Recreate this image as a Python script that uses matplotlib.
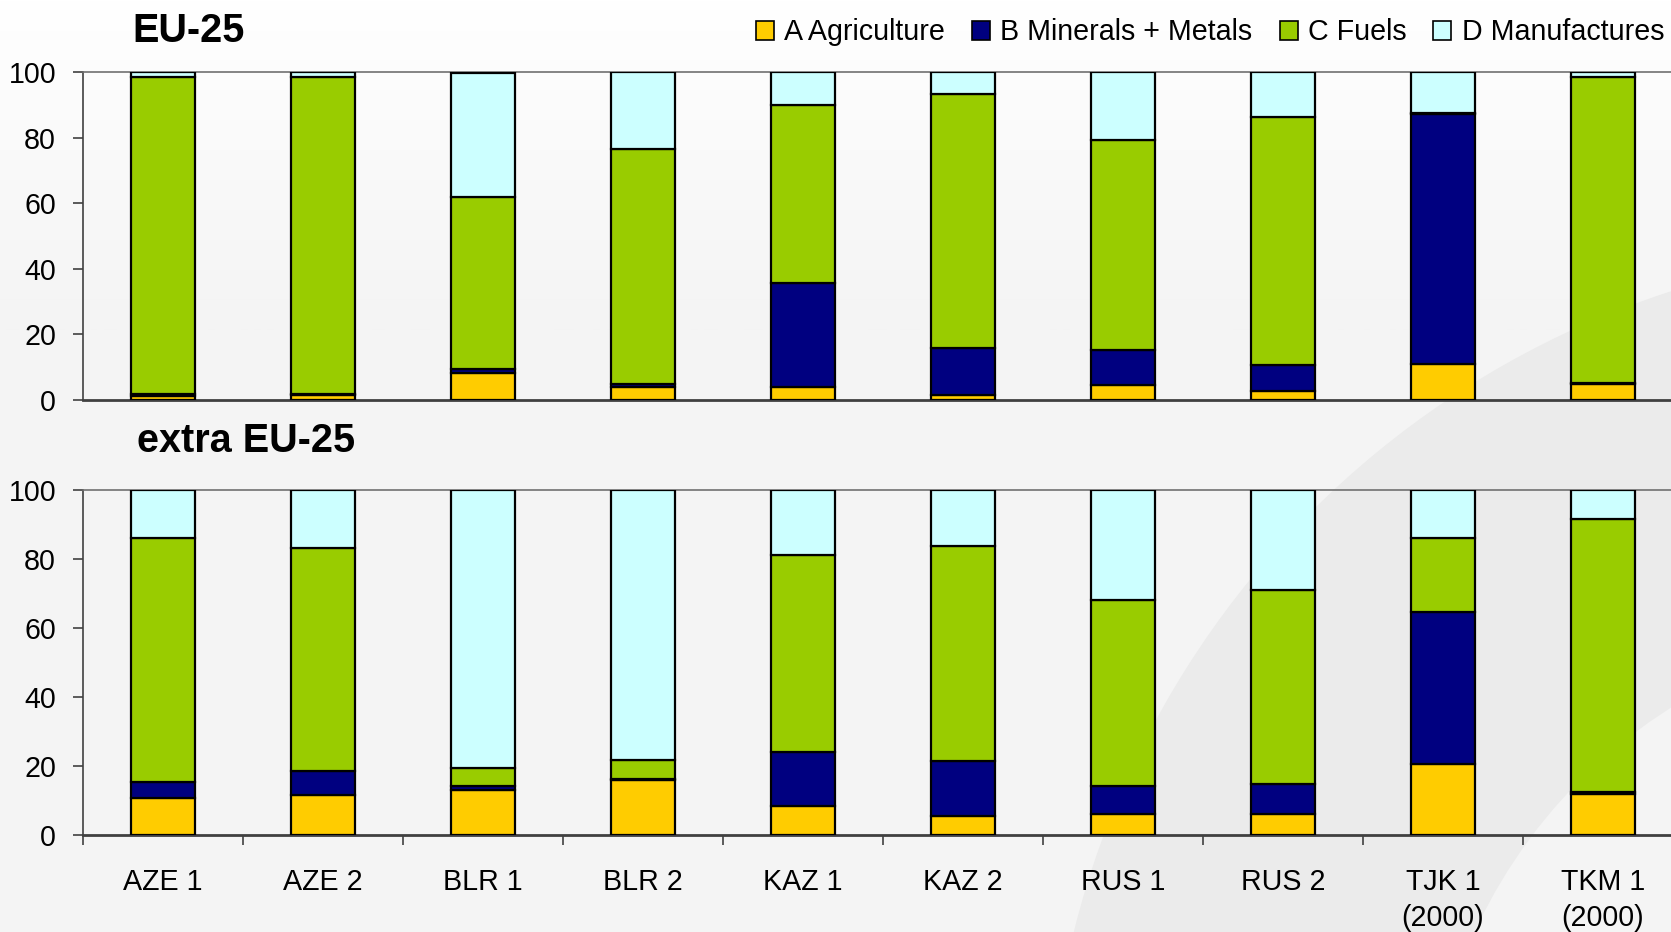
import matplotlib
matplotlib.use('Agg')
import matplotlib.pyplot as plt
import numpy as np
from matplotlib.patches import Patch, Wedge
from matplotlib.colors import LinearSegmentedColormap

plt.rcParams['font.family'] = ['Liberation Sans', 'DejaVu Sans']

categories = ['AZE 1', 'AZE 2', 'BLR 1', 'BLR 2', 'KAZ 1', 'KAZ 2',
              'RUS 1', 'RUS 2', 'TJK 1\n(2000)', 'TKM 1\n(2000)']
series = ['A Agriculture', 'B Minerals + Metals', 'C Fuels', 'D Manufactures']
colors = ['#FFCC00', '#000080', '#99CC00', '#CCFFFF']

# EU-25
agr_eu = [1.0, 1.5, 8.0, 3.9, 3.9, 1.4, 4.5, 2.7, 10.9, 4.7]
min_eu = [0.7, 0.2, 1.3, 0.8, 31.8, 14.5, 10.7, 7.8, 76.3, 0.5]
fuel_eu = [97.0, 97.0, 52.7, 71.8, 54.3, 77.5, 64.2, 76.0, 0.3, 93.5]
man_eu = [1.3, 1.3, 38.0, 23.5, 10.0, 6.6, 20.6, 13.5, 12.5, 1.3]

# extra EU-25
agr_x = [10.5, 11.6, 12.8, 15.7, 8.3, 5.5, 6.0, 6.0, 20.5, 11.8]
min_x = [4.7, 6.9, 1.2, 0.4, 15.6, 15.8, 8.0, 8.6, 44.0, 0.6]
fuel_x = [70.9, 64.8, 5.4, 5.6, 57.1, 62.5, 54.2, 56.5, 21.6, 79.3]
man_x = [13.9, 16.7, 80.6, 78.3, 19.0, 16.2, 31.8, 28.9, 13.9, 8.3]

W, H = 1671, 932
fs = 20.6
fig = plt.figure(figsize=(W / 100, H / 100), dpi=100)
fig.patch.set_facecolor('#f4f4f4')

# background: light gradient at top + grey swoosh
bg = fig.add_axes([0, 0, 1, 1], zorder=-10)
bg.set_xlim(0, W)
bg.set_ylim(H, 0)
bg.axis('off')
grad = np.linspace(0, 1, 256).reshape(-1, 1)
cm = LinearSegmentedColormap.from_list('g', ['#ffffff', '#f4f4f4'])
bg.imshow(grad, extent=(0, W, 330, 0), cmap=cm, aspect='auto')
bg.add_patch(Wedge((1950, 1150), 903, 90, 270, width=380,
                   facecolor='#ebebeb', edgecolor='none'))

x = np.arange(len(categories))


def draw(ax, vals):
    bottom = np.zeros(len(categories))
    for v, c in zip(vals, colors):
        ax.bar(x, v, 0.4, bottom=bottom, color=c, edgecolor='black',
               linewidth=1.6, zorder=3)
        bottom += np.array(v)
    ax.set_xlim(-0.5, len(categories) - 0.5)
    ax.set_ylim(0, 100)
    ax.set_yticks(range(0, 101, 20))
    ax.set_facecolor('none')
    ax.tick_params(axis='y', labelsize=fs, length=7.4, width=1.2,
                   color='#404040', pad=12)
    ax.spines['right'].set_visible(False)
    ax.spines['top'].set_color('#707070')
    ax.spines['top'].set_linewidth(1.2)
    ax.spines['left'].set_color('#404040')
    ax.spines['left'].set_linewidth(1.2)
    ax.spines['bottom'].set_color('#404040')
    ax.spines['bottom'].set_linewidth(2)


ax1 = fig.add_axes([83 / W, 1 - 399.6 / H, 1600 / W, (399.6 - 72.5) / H])
draw(ax1, [agr_eu, min_eu, fuel_eu, man_eu])
ax1.set_xticks([])

ax2 = fig.add_axes([83 / W, 1 - 834.5 / H, 1600 / W, (834.5 - 490) / H])
draw(ax2, [agr_x, min_x, fuel_x, man_x])
ax2.set_xticks(np.arange(-0.5, len(categories), 1))
ax2.set_xticklabels([])
ax2.tick_params(axis='x', which='major', length=7.4, width=1.2,
                color='#404040')
ax2.set_xticks(x, minor=True)
ax2.set_xticklabels(categories, minor=True, fontsize=fs, linespacing=1.35)
ax2.tick_params(axis='x', which='minor', length=0, pad=24)

fig.text(132 / W, 1 - 42 / H, 'EU-25', fontsize=28.5, fontweight='bold',
         va='baseline')
fig.text(137 / W, 1 - 452 / H, 'extra EU-25', fontsize=28.5,
         fontweight='bold', va='baseline')

handles = [Patch(facecolor=c, edgecolor='black', linewidth=1.2) for c in colors]
fig.legend(handles, series, loc='center right',
           bbox_to_anchor=(1664 / W, 1 - 32.5 / H),
           ncol=4, frameon=False, fontsize=fs, handlelength=0.63,
           handleheight=0.63, handletextpad=0.35, columnspacing=0.95,
           borderaxespad=0, borderpad=0)

fig.savefig('out.png', dpi=100, facecolor=fig.get_facecolor())
